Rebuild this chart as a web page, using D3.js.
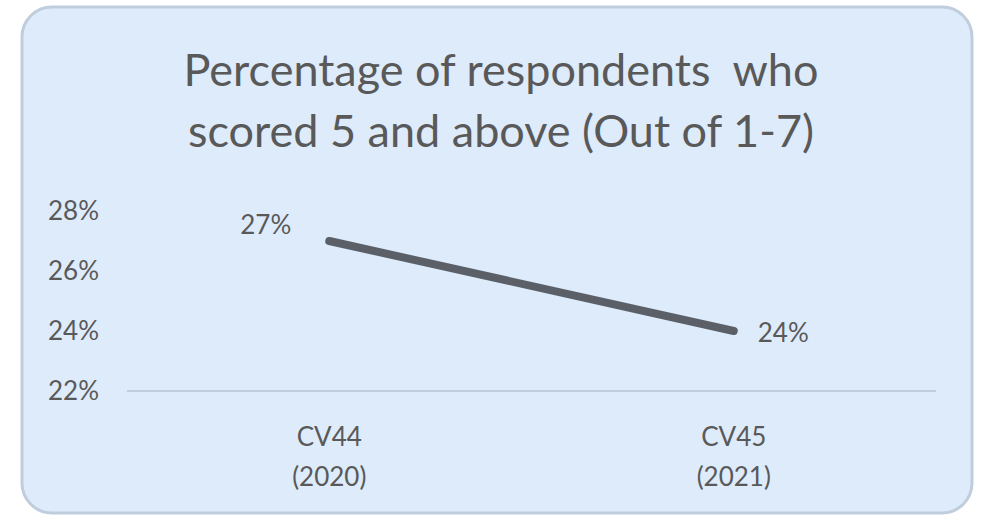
<html>
<head>
	<script src="https://d3js.org/d3.v7.min.js"></script>
	<style>
		* { margin: 0px; padding: 0px; }
		body { background: #ffffff; }
		text { font-family: Lato, "Open Sans", sans-serif; fill: #595959; }
	</style>
</head>
<body>
	<svg id="chart" width="986" height="516"></svg>
	<script>
	// chart data
	var categories = ["CV44\n(2020)", "CV45\n(2021)"];
	var values = [0.27, 0.24];
	var valueLabels = ["27%", "24%"];
	var yTicks = [0.22, 0.24, 0.26, 0.28];
	var titleLines = ["Percentage of respondents  who", "scored 5 and above (Out of 1-7)"];

	var svg = d3.select( "#chart" );

	// rounded panel behind the chart
	svg.append( "rect" )
		.attr( "x", 22 ).attr( "y", 7 )
		.attr( "width", 950 ).attr( "height", 506 )
		.attr( "rx", 30 ).attr( "ry", 30 )
		.attr( "fill", "#ddebfb" )
		.attr( "stroke", "#bfcddc" )
		.attr( "stroke-width", 3 );

	// title, two lines
	svg.append( "text" )
		.attr( "text-anchor", "middle" )
		.style( "font-size", "45px" )
		.style( "white-space", "pre" )
		.selectAll( "tspan" )
		.data( titleLines )
		.join( "tspan" )
		.attr( "x", 501 )
		.attr( "y", function ( d, i ) { return 86 + i * 61; } )
		.text( function ( d ) { return d; } );

	var x = d3.scalePoint()
		.domain( categories )
		.range( [127, 936] )
		.padding( 0.5 );

	var y = d3.scaleLinear()
		.domain( [0.22, 0.28] )
		.range( [391, 211] );

	// y axis labels, no line
	var yAxis = d3.axisLeft( y )
		.tickValues( yTicks )
		.tickSize( 0 )
		.tickPadding( 0 )
		.tickFormat( d3.format( ".0%" ) );

	var gy = svg.append( "g" )
		.attr( "transform", "translate(99,0)" )
		.call( yAxis );
	gy.select( ".domain" ).remove();
	gy.selectAll( "text" )
		.style( "font-size", "26px" )
		.style( "font-family", "Lato, sans-serif" )
		.attr( "fill", "#595959" );

	// x axis base line
	svg.append( "line" )
		.attr( "x1", 127 ).attr( "x2", 936 )
		.attr( "y1", y( 0.22 ) ).attr( "y2", y( 0.22 ) )
		.attr( "stroke", "#bfcddc" )
		.attr( "stroke-width", 2 );

	// x category labels, two lines each
	var xl = svg.append( "g" ).selectAll( "text" )
		.data( categories )
		.join( "text" )
		.attr( "text-anchor", "middle" )
		.style( "font-size", "26px" );
	xl.selectAll( "tspan" )
		.data( function ( d ) { return d.split( "\n" ).map( function ( s, i ) { return { s: s, i: i, c: d }; } ); } )
		.join( "tspan" )
		.attr( "x", function ( d ) { return x( d.c ); } )
		.attr( "y", function ( d ) { return 446 + d.i * 40; } )
		.text( function ( d ) { return d.s; } );

	// the line
	var line = d3.line()
		.x( function ( d, i ) { return x( categories[i] ); } )
		.y( function ( d ) { return y( d ); } );

	svg.append( "path" )
		.datum( values )
		.attr( "d", line )
		.attr( "fill", "none" )
		.attr( "stroke", "#5b6068" )
		.attr( "stroke-width", 8 )
		.attr( "stroke-linecap", "round" );

	// data labels: first one left-above, second one right
	svg.append( "text" )
		.attr( "x", x( categories[0] ) - 38 )
		.attr( "y", y( values[0] ) - 7 )
		.attr( "text-anchor", "end" )
		.style( "font-size", "26px" )
		.text( valueLabels[0] );

	svg.append( "text" )
		.attr( "x", x( categories[1] ) + 24 )
		.attr( "y", y( values[1] ) + 11 )
		.attr( "text-anchor", "start" )
		.style( "font-size", "26px" )
		.text( valueLabels[1] );
	</script>
</body>
</html>
